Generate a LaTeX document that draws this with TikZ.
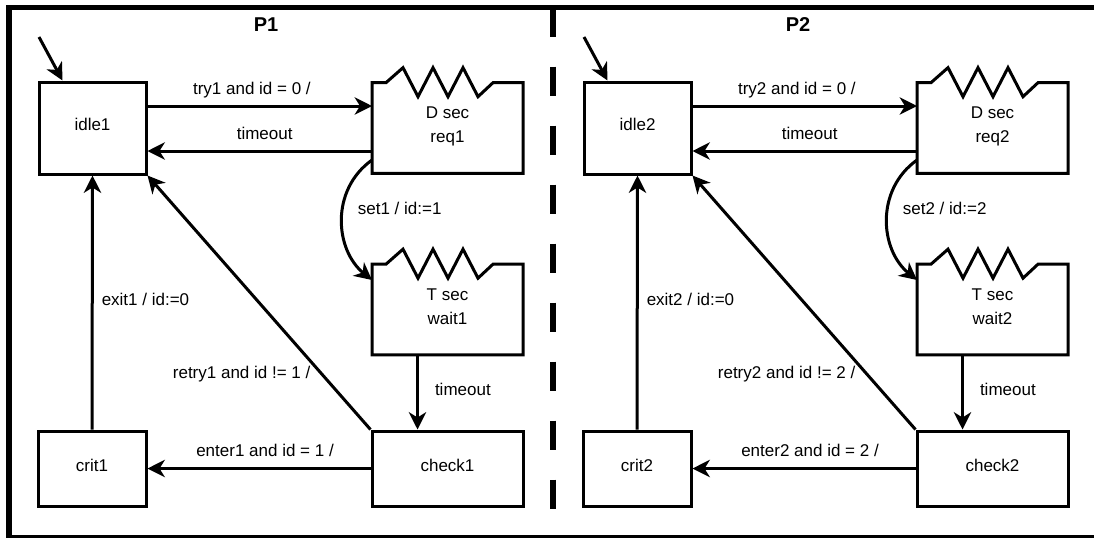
\documentclass[tikz,border=0pt]{standalone}
\usepackage{fontspec}
\setmainfont{Liberation Sans}
\usetikzlibrary{arrows.meta,positioning,calc}

\begin{document}
\begin{tikzpicture}[x=0.75pt,y=-0.75pt,
	font=\fontsize{12.75pt}{18pt}\selectfont,
	plainbox/.style={draw,line width=2.25pt,inner sep=0pt,text depth=0.5em},
	timedbox/.style={inner sep=0pt,outer sep=0pt,align=center,text depth=0.5em,
		minimum width=113.25pt,minimum height=68pt},
	boxline/.style={line width=2.25pt,line join=miter},
	arr/.style={line width=2.25pt,-{Stealth[length=13pt,width=13pt,inset=4pt]}},
	lbl/.style={inner sep=0pt}]
			\useasboundingbox (0,0) rectangle (1094,537);
			\clip (0,0) rectangle (1094,537);
			% rahmen und trennlinie
			\draw[line width=4.2pt] (9,7.5) rectangle (1104,537.5);
			\draw[line width=4.5pt,dash pattern=on 21.75pt off 22.5pt] (553,7.5)--(553,537);
			\node[font=\bfseries\fontsize{15pt}{18pt}\selectfont] (title1) at (266,25) {P1};
			\node[font=\bfseries\fontsize{15pt}{18pt}\selectfont] (title2) at (798,25) {P2};
			% beide prozesse
			\foreach \i/\dx in {1/0pt,2/408.75pt}{
				\begin{scope}[xshift=\dx]
					\node[plainbox,minimum width=80.25pt,minimum height=69pt] (idle\i) at (92.5,128) {idle\i};
					\node[timedbox] (req\i) at (447.5,128) {D sec\\req\i};
					\node[timedbox] (wait\i) at (447.5,309.5) {T sec\\wait\i};
					\node[plainbox,minimum width=81pt,minimum height=56.25pt] (crit\i) at (92,468.5) {crit\i};
					\node[plainbox,minimum width=113.25pt,minimum height=56.25pt] (check\i) at (447.5,468.5) {check\i};
					\coordinate (start\i) at (39,37);
					% zickzack oben
					\foreach \n in {req\i,wait\i}
					\draw[boxline] ($(\n.north west)+(14,0)$)--(\n.north west)--(\n.south west)--(\n.south east)
					--(\n.north east)--($(\n.north west)+(121,0)$)--++(-15,14)--++(-15,-29)--++(-15,29)
					--++(-15,-29)--++(-15,29)--++(-15,-29)--cycle;
					% kanten
					\draw[arr] (start\i)--($(idle\i.north west)+(25,0)$);
					\draw[arr] ($(idle\i.east)+(0,-22)$)--node[lbl,pos=0.465,anchor=base,yshift=9pt]{try\i{} and id = 0 /}($(req\i.west)+(0,-22)$);
					\draw[arr] ($(req\i.west)+(0,23)$)--node[lbl,pos=0.478,anchor=base,yshift=9pt]{timeout}($(idle\i.east)+(0,23)$);
					\draw[arr] ($(req\i.west)+(0,32)$) .. controls +(-42,30) and +(-37,-30) .. node[lbl,pos=0.5,anchor=west,xshift=10.5pt,yshift=9pt]{set\i{} / id:=\i}($(wait\i.west)+(0,-29.5)$);
					\draw[arr] ($(wait\i.south)+(-30,0)$)--node[lbl,pos=0.46,anchor=west,xshift=12pt]{timeout}($(check\i.north)+(-30,0)$);
					\draw[arr] (check\i.west)--node[lbl,pos=0.473,anchor=base,yshift=9pt]{enter\i{} and id = \i{} /}(crit\i.east);
					\draw[arr] (crit\i.north)--node[lbl,pos=0.514,anchor=west,xshift=6pt]{exit\i{} / id:=0}(idle\i.south);
					\draw[arr] (check\i.north west)--node[lbl,pos=0.218,anchor=east,xshift=-7.5pt]{retry\i{} and id != \i{} /}(idle\i.south east);
				\end{scope}
			}
		\end{tikzpicture}
\end{document}
